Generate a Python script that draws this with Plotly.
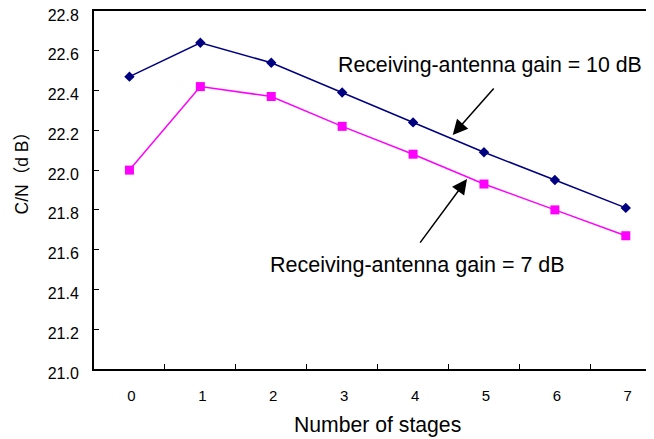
import plotly.graph_objects as go

stages = ["0", "1", "2", "3", "4", "5", "6", "7"]
cn_gain10 = [22.47, 22.64, 22.54, 22.39, 22.24, 22.09, 21.95, 21.81]
cn_gain7 = [22.00, 22.42, 22.37, 22.22, 22.08, 21.93, 21.80, 21.67]
y_ticks = [21.0, 21.2, 21.4, 21.6, 21.8, 22.0, 22.2, 22.4, 22.6, 22.8]
y_tick_text = ["21.0", "21.2", "21.4", "21.6", "21.8", "22.0", "22.2", "22.4", "22.6", "22.8"]

FONT = "Arial, Liberation Sans, Noto Sans CJK SC, sans-serif"

fig = go.Figure()
fig.add_trace(go.Scatter(
    x=stages, y=cn_gain10, mode="lines+markers",
    line=dict(color="#000080", width=1.5),
    marker=dict(symbol="diamond", size=8, color="#000080"),
    name="Receiving-antenna gain = 10 dB", showlegend=False,
))
fig.add_trace(go.Scatter(
    x=stages, y=cn_gain7, mode="lines+markers",
    line=dict(color="#FF00FF", width=1.5),
    marker=dict(symbol="square", size=9, color="#FF00FF"),
    name="Receiving-antenna gain = 7 dB", showlegend=False,
))

# annotations (text labels)
fig.add_annotation(x=5.085, y=22.528, xref="x", yref="y",
                   text="Receiving-antenna gain = 10 dB", showarrow=False,
                   font=dict(family=FONT, size=21.3, color="black"))
fig.add_annotation(x=4.056, y=21.523, xref="x", yref="y",
                   text="Receiving-antenna gain = 7 dB", showarrow=False,
                   font=dict(family=FONT, size=21.5, color="black"))
# arrows
fig.add_annotation(x=4.559, y=22.177, ax=5.156, ay=22.418,
                   xref="x", yref="y", axref="x", ayref="y", text="",
                   showarrow=True, arrowhead=2, arrowsize=2, arrowwidth=1.5,
                   arrowcolor="black")
fig.add_annotation(x=4.761, y=21.955, ax=4.084, ay=21.628,
                   xref="x", yref="y", axref="x", ayref="y", text="",
                   showarrow=True, arrowhead=2, arrowsize=2, arrowwidth=1.5,
                   arrowcolor="black")
# axis titles
fig.add_annotation(x=0.507, y=-0.156, xref="paper", yref="paper",
                   xanchor="center", yanchor="middle",
                   text="Number of stages", showarrow=False,
                   font=dict(family=FONT, size=21.2, color="black"))
fig.add_annotation(x=-0.1286, y=0.56, xref="paper", yref="paper",
                   xanchor="center", yanchor="middle",
                   text="C/N（d B）", showarrow=False, textangle=-90,
                   font=dict(family=FONT, size=17.5, color="black"))

fig.update_xaxes(
    type="category", range=[-0.5, 7.398], automargin=False,
    showline=True, linecolor="black", linewidth=2, mirror=True,
    ticks="inside", ticklen=5, tickcolor="black", tickwidth=1,
    tickson="boundaries", showgrid=False, zeroline=False,
    tickfont=dict(family=FONT, size=15, color="black"),
    ticklabelstandoff=12, ticklabelshift=2,
)
fig.update_yaxes(
    range=[21.0, 22.8], tickvals=y_ticks, ticktext=y_tick_text, automargin=False,
    showline=True, linecolor="black", linewidth=2, mirror=False,
    ticks="inside", ticklen=5, tickcolor="black", tickwidth=1,
    showgrid=False, zeroline=False,
    tickfont=dict(family=FONT, size=16, color="black"),
    ticklabelstandoff=10, ticklabelshift=4, ticklabeloverflow="allow",
)
# the page body adds an 8px margin, so the figure is sized to fit the window
fig.update_layout(
    width=646, height=431,
    margin=dict(l=86, r=0, t=3, b=70),
    paper_bgcolor="white", plot_bgcolor="white",
    showlegend=False,
)
fig.write_html("out.html")
